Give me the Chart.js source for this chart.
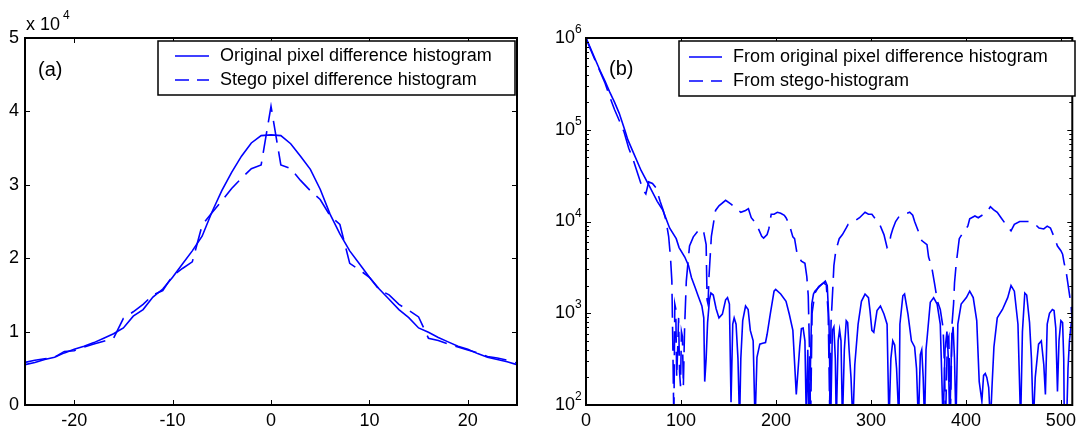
<!DOCTYPE html>
<html lang="en">
<head>
<meta charset="UTF-8">
<title>Pixel difference histograms</title>
<script src="https://cdn.jsdelivr.net/npm/chart.js"></script>
<style>
  body { margin: 0; background: #fff; }
  .wrap { position: relative; width: 1081px; height: 430px; }
  #chartA { position: absolute; left: 0; top: 0; }
  #chartB { position: absolute; left: 540px; top: 0; }
</style>
</head>
<body>
<div class="wrap">
  <canvas id="chartA" width="540" height="430"></canvas>
  <canvas id="chartB" width="541" height="430"></canvas>
</div>
<script>
// ---- panel (a): pixel difference histograms (counts, x 10^4) ----
const diffBins = [-25,-24,-23,-22,-21,-20,-19,-18,-17,-16,-15,-14,-13,-12,-11,-10,-9,-8,-7,-6,-5,-4,-3,-2,-1,
                  0,1,2,3,4,5,6,7,8,9,10,11,12,13,14,15,16,17,18,19,20,21,22,23,24,25];
const origHist  = [0.55,0.58,0.62,0.65,0.71,0.76,0.80,0.85,0.91,0.97,1.05,1.21,1.30,1.47,1.58,1.74,1.92,2.10,2.30,2.63,2.92,3.17,3.39,3.57,3.67,
                   3.68,3.67,3.56,3.39,3.21,2.94,2.60,2.33,2.10,1.92,1.74,1.58,1.44,1.30,1.19,1.05,0.99,0.92,0.86,0.80,0.76,0.70,0.65,0.62,0.59,0.55];
const stegoHist = [0.58,0.61,0.63,0.65,0.73,0.74,0.79,0.83,0.87,0.91,1.18,1.27,1.37,1.50,1.56,1.76,1.86,1.95,2.45,2.62,2.78,2.95,3.09,3.22,3.27,
                   4.07,3.27,3.22,3.06,2.92,2.80,2.58,2.46,1.93,1.84,1.74,1.57,1.50,1.37,1.29,1.20,0.91,0.88,0.83,0.79,0.75,0.71,0.66,0.64,0.61,0.57];
const xTicksA = [-20, -10, 0, 10, 20];
const yTicksA = [0, 1, 2, 3, 4, 5];

// ---- panel (b): magnitude curves (log scale) ----
const origFreq = [0,5,10,15,20,25,30,35,41,44,50,58,67,75,81,88,95,98,104,108,111,115,118,122,124,125,126.5,128,130,131.5,134,137,140,143.6,147,149,151,152.7,154.5,156,158,160,161.7,163,165,168,170.7,173,176,178,180,183,186,189,190.7,194,198,199.7,205,210.6,214,217.8,221.4,225,226.8,228.6,230.5,232,233.5,235,237.7,239.5,241,246.7,250,252,254,255.8,257.6,259.4,261,262.5,263.5,265.5,267,268.5,270,272,274,275.5,277,279,281,283,286.5,290,293.8,297.4,299,301,303,306.4,310,313.7,317,319,321,323,325,327,329.5,330.5,333.6,335.4,339,342.6,346,348,350,352,353.5,355,356.5,358,359.5,362.5,366,369.7,373,376,378,380,381.5,383,385,386.5,388,389.5,391.5,395,400.5,404,407.7,411.4,414,416.8,418.6,420.4,422,424,425.8,427.5,429.5,433,438.5,444,447.5,451,454.8,457.6,459.5,462,464,467,469,471,473,476.5,479.4,482,483.7,485.6,488,491,492.8,494.6,496.4,498,500,501.8,503,503.6,506,507.5,509,511,512];
const origMag  = [1000000,760000,575000,437000,339000,257000,200000,151000,98000,78000,56000,36000,24000,16600,13200,8500,6500,5200,4100,3300,2450,1900,1550,1200,890,180,320,790,1400,1660,1580,1120,890,980,1400,1480,1260,107,760,890,760,320,63,320,830,1200,1100,650,500,63,330,460,470,480,590,980,1740,1820,1620,1350,980,650,130,430,680,690,500,63,400,63,1260,1620,1740,2000,2140,2240,2000,830,63,650,710,320,63,500,660,500,63,400,830,790,400,200,63,275,760,1350,1620,1480,1070,650,620,1070,1200,980,760,63,320,500,450,250,63,760,1550,1620,980,500,430,250,63,355,400,200,63,400,590,1320,1480,1260,760,63,400,630,320,63,500,710,320,63,760,1260,1480,1740,1480,830,180,110,210,220,200,155,63,160,430,890,1100,1480,2000,1740,760,63,630,1660,1580,790,320,63,200,460,500,275,130,760,1000,1100,1070,690,140,500,830,790,320,63,63,250,500,790,830];
const stegoFreq = [0,5,10,15,20,25,30,35,40,45,50,55,60,63,66,70,74,78,81,84,87,89,90.4,91.5,92.5,93.5,94.5,95.5,96.5,97.5,98.5,99.5,100.5,101.5,102.5,103.8,105.6,107.5,109,113,118,122,124,126.5,127.5,128.5,129.5,132,136.4,140,147,152.7,158,163,168,171,174,178,181.6,185,187,190.7,192.5,195,198,201.5,205,208.8,210.6,214,217.8,219.6,222.5,226.8,230.5,232.5,234,235.5,236.5,238,241,245,250,253,255,256.5,258,260,261,263,266.6,270,274,276,282,288,293.8,297.4,301,304.6,310,313.7,317,319,321,323,326,330,335,340.8,344,346,349,353.5,359,360.7,364,367,370,373,376,377.5,378.5,380.5,382,383.5,385.5,387,388,389.7,393,397,402,404,409.5,413,418.6,422,425.8,429,433,437,442,447.5,451,456.6,462,467,472.9,477,482,485.6,489,492.8,496.4,500,501.8,503.5,505.4,507,510.8,512];
const stegoMag  = [1000000,740000,560000,427000,324000,229000,166000,126000,95000,63000,46000,32000,22000,20000,27000,26000,23000,16600,13500,10500,6900,4000,2240,400,63,1260,1120,200,400,890,230,160,630,560,160,690,2240,3700,5400,6800,7900,8300,7600,5600,1400,1260,2500,6900,13200,14800,17000,15500,13800,12600,13200,13800,11000,9800,8300,6900,6600,7200,8300,12000,12000,12600,12300,11700,11000,9300,6800,6500,4300,3700,3500,2500,1550,320,63,1000,1660,1950,2140,2040,1000,100,790,2000,3300,4800,6500,7200,8500,9300,10000,11000,12600,12000,12000,10700,8900,7200,5200,5400,7100,8300,10000,11500,12000,12600,11700,10000,8300,6200,5600,4100,3200,2100,1350,1100,690,250,63,500,560,63,790,1260,2140,3400,6500,7600,8900,10700,11500,11000,12000,12600,14500,13500,12600,11000,9300,7900,9300,10000,10000,10000,9300,8500,8300,8900,8500,6800,5400,4800,4400,3500,2900,2240,1200,790];
const xTicksB = [0, 100, 200, 300, 400, 500];
const decadesB = [1e2, 1e3, 1e4, 1e5, 1e6];

const FONT = '"Liberation Sans", Arial, Helvetica, sans-serif';
const BLUE = '#0000ff';
const LEGEND_DASH = [14, 8];

function pts(xs, ys) { return xs.map((x, i) => ({ x: x, y: ys[i] })); }

// MATLAB style box with inward ticks on all four sides
function drawBox(chart, xt, yt, minor) {
  const { ctx, chartArea: a, scales } = chart;
  ctx.save();
  ctx.strokeStyle = '#000';
  ctx.lineWidth = 1;
  ctx.beginPath();
  xt.forEach(v => {
    const px = Math.round(scales.x.getPixelForValue(v)) + 0.5;
    ctx.moveTo(px, a.bottom); ctx.lineTo(px, a.bottom - 5);
    ctx.moveTo(px, a.top); ctx.lineTo(px, a.top + 5);
  });
  yt.forEach(v => {
    const py = Math.round(scales.y.getPixelForValue(v)) + 0.5;
    ctx.moveTo(a.left, py); ctx.lineTo(a.left + 5, py);
    ctx.moveTo(a.right, py); ctx.lineTo(a.right - 5, py);
  });
  minor.forEach(v => {
    const py = Math.round(scales.y.getPixelForValue(v)) + 0.5;
    ctx.moveTo(a.left, py); ctx.lineTo(a.left + 3, py);
    ctx.moveTo(a.right, py); ctx.lineTo(a.right - 3, py);
  });
  ctx.stroke();
  ctx.lineWidth = 2;
  ctx.strokeRect(a.left, a.top, a.right - a.left, a.bottom - a.top);
  ctx.restore();
}

function drawLegend(chart, b) {
  const ctx = chart.ctx;
  ctx.save();
  ctx.fillStyle = '#fff';
  ctx.fillRect(b.x, b.y, b.w, b.h);
  ctx.strokeStyle = '#000';
  ctx.lineWidth = 1.5;
  ctx.strokeRect(b.x, b.y, b.w, b.h);
  chart.data.datasets.forEach((ds, i) => {
    const y = b.y + b.rows[i];
    ctx.strokeStyle = ds.borderColor;
    ctx.lineWidth = ds.borderWidth;
    ctx.setLineDash(ds.borderDash ? LEGEND_DASH : []);
    ctx.beginPath();
    ctx.moveTo(b.x + b.s0, y); ctx.lineTo(b.x + b.s1, y);
    ctx.stroke();
    ctx.setLineDash([]);
    ctx.fillStyle = '#000';
    ctx.font = '18px ' + FONT;
    ctx.textBaseline = 'middle';
    ctx.fillText(ds.label, b.x + b.tx, y);
  });
  ctx.restore();
}

const lineStyle = { fill: false, pointRadius: 0, borderWidth: 1.6, tension: 0, borderColor: BLUE };

// ---------- chart (a) ----------
new Chart(document.getElementById('chartA'), {
  type: 'line',
  data: {
    datasets: [
      Object.assign({ label: 'Original pixel difference histogram', data: pts(diffBins, origHist) }, lineStyle),
      Object.assign({ label: 'Stego pixel difference histogram', data: pts(diffBins, stegoHist), borderDash: [22, 9] }, lineStyle)
    ]
  },
  options: {
    responsive: false, animation: false, devicePixelRatio: 1, events: [],
    layout: { padding: { top: 38, right: 23, left: 0, bottom: 0 } },
    plugins: { legend: { display: false }, tooltip: { enabled: false } },
    scales: {
      x: {
        type: 'linear', min: -25, max: 25,
        afterBuildTicks: s => { s.ticks = xTicksA.map(v => ({ value: v })); },
        afterFit: s => { s.height = 25; },
        grid: { display: false, drawTicks: false }, border: { display: false },
        ticks: { color: '#000', font: { family: FONT, size: 18 }, padding: 5, maxRotation: 0, autoSkip: false }
      },
      y: {
        type: 'linear', min: 0, max: 5,
        afterBuildTicks: s => { s.ticks = yTicksA.map(v => ({ value: v })); },
        afterFit: s => { s.width = 25; },
        grid: { display: false, drawTicks: false }, border: { display: false },
        ticks: { color: '#000', font: { family: FONT, size: 18 }, padding: 6 }
      }
    }
  },
  plugins: [{
    id: 'frameA',
    afterDraw(chart) {
      drawBox(chart, xTicksA, yTicksA, []);
      drawLegend(chart, { x: 158, y: 41, w: 357, h: 54, rows: [15, 39], s0: 17, s1: 51, tx: 62 });
      const ctx = chart.ctx;
      ctx.save();
      ctx.fillStyle = '#000';
      ctx.textBaseline = 'alphabetic';
      ctx.font = '18px ' + FONT;
      ctx.fillText('x 10', 26, 30);
      ctx.font = '12px ' + FONT;
      ctx.fillText('4', 63, 19);
      ctx.font = '20px ' + FONT;
      ctx.fillText('(a)', 38, 76);
      ctx.restore();
    }
  }]
});

// ---------- chart (b) ----------
const minorB = [];
decadesB.slice(0, -1).forEach(d => { for (let k = 2; k <= 9; k++) minorB.push(d * k); });

new Chart(document.getElementById('chartB'), {
  type: 'line',
  data: {
    datasets: [
      Object.assign({ label: 'From original pixel difference histogram', data: pts(origFreq, origMag) }, lineStyle),
      Object.assign({ label: 'From stego-histogram', data: pts(stegoFreq, stegoMag), borderDash: [24, 9] }, lineStyle)
    ]
  },
  options: {
    responsive: false, animation: false, devicePixelRatio: 1, events: [],
    layout: { padding: { top: 38, right: 4, left: 0, bottom: 0 } },
    plugins: { legend: { display: false }, tooltip: { enabled: false } },
    scales: {
      x: {
        type: 'linear', min: 0, max: 512,
        afterBuildTicks: s => { s.ticks = xTicksB.map(v => ({ value: v })); },
        afterFit: s => { s.height = 25; },
        grid: { display: false, drawTicks: false }, border: { display: false },
        ticks: { color: '#000', font: { family: FONT, size: 18 }, padding: 5, maxRotation: 0, autoSkip: false }
      },
      y: {
        type: 'logarithmic', min: 100, max: 1e6,
        afterBuildTicks: s => { s.ticks = decadesB.map(v => ({ value: v })); },
        afterFit: s => { s.width = 46; },
        grid: { display: false, drawTicks: false }, border: { display: false },
        ticks: { display: false }
      }
    }
  },
  plugins: [{
    id: 'frameB',
    afterDraw(chart) {
      drawBox(chart, xTicksB, decadesB, minorB);
      drawLegend(chart, { x: 139, y: 41, w: 396, h: 55, rows: [16, 40], s0: 10, s1: 43, tx: 54 });
      const ctx = chart.ctx;
      const y = chart.scales.y;
      ctx.save();
      ctx.fillStyle = '#000';
      decadesB.forEach(v => {
        const py = y.getPixelForValue(v);
        const exp = String(Math.round(Math.log10(v)));
        ctx.textBaseline = 'middle';
        ctx.font = '18px ' + FONT;
        ctx.fillText('10', 15, py);
        ctx.textBaseline = 'alphabetic';
        ctx.font = '12px ' + FONT;
        ctx.fillText(exp, 35, py - 5);
      });
      ctx.textBaseline = 'alphabetic';
      ctx.font = '20px ' + FONT;
      ctx.fillText('(b)', 69, 75);
      ctx.restore();
    }
  }]
});
</script>
</body>
</html>
